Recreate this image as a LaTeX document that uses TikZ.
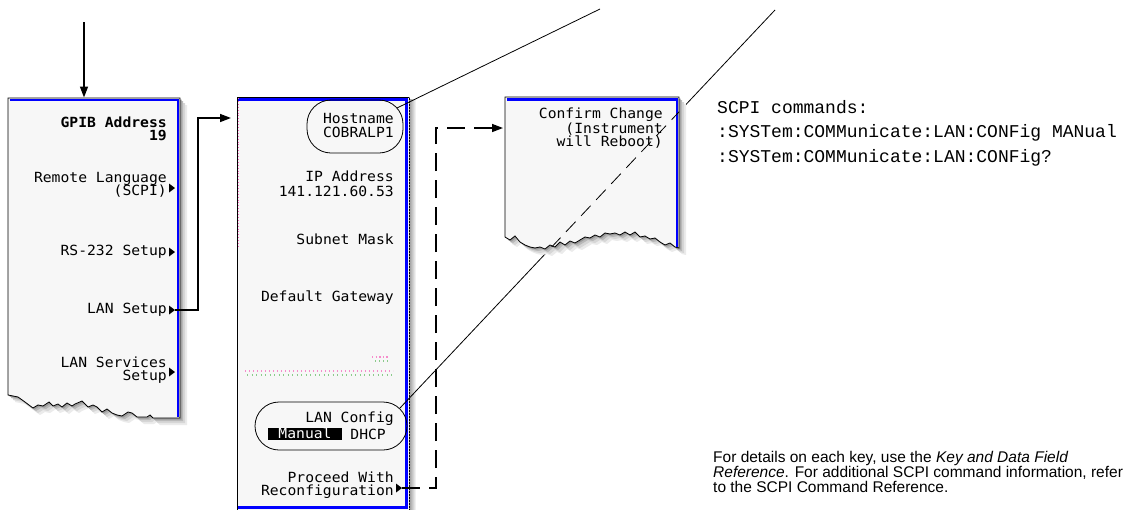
\documentclass[tikz,border=0pt]{standalone}
\usepackage{fontspec}
\setmainfont{Liberation Sans}
\newfontfamily\panelfont[FakeStretch=1.05]{DejaVu Sans Mono}
\newfontfamily\cmdfont{Liberation Mono}
\newcommand\tightlines{\lineskiplimit=-20pt\relax}
\usetikzlibrary{arrows.meta,calc}

\tikzset{
  sk/.style={anchor=east, align=right, inner sep=0pt, font=\panelfont\fontsize{14}{13}\selectfont\tightlines},
  skwide/.style={sk, font=\panelfont\fontsize{14}{14}\selectfont\tightlines},
  pnl/.style={fill=black!3, draw=black, line width=0.8pt},
  pnlblue/.style={draw=blue, line width=2.4pt},
  ring/.style={draw=black, line width=0.8pt, rounded corners=24pt},
  arr/.style={-{Triangle[length=11pt,width=8pt]}, line width=1.5pt},
  dasharr/.style={arr, dash pattern=on 18pt off 9pt},
  ptr/.style={line width=0.8pt},
  leftpaper/.pic={\path[pic actions] (8,98) -- (180,98) -- (180,418) -- (153,418) -- (150,415) -- (147,417)
    -- (137,417) -- (132,413) -- (128,412) -- (122,416) -- (117,415) -- (112,413) -- (107,409) -- (102,412)
    -- (97,407) -- (93,405) -- (88,407) -- (82,401) -- (75,404) -- (72,406) -- (67,403) -- (62,407)
    -- (58,404) -- (53,406) -- (49,402) -- (43,406) -- (38,405) -- (33,408) -- (25,402) -- (18,397)
    -- (13,396) -- (8,395) -- cycle;},
  rightpaper/.pic={\path[pic actions] (505,97) -- (679,97) -- (679,248) -- (675,247) -- (670,243)
    -- (665,245) -- (660,242) -- (655,238) -- (650,239) -- (645,236) -- (640,237) -- (635,232) -- (630,235)
    -- (625,232) -- (620,235) -- (615,233) -- (610,234) -- (605,233) -- (600,237) -- (595,235) -- (590,238)
    -- (585,237) -- (580,240) -- (575,243) -- (570,241) -- (565,245) -- (560,242) -- (555,247) -- (550,245)
    -- (545,249) -- (540,247) -- (535,248) -- (530,247) -- (525,245) -- (520,242) -- (515,236) -- (510,240)
    -- (505,237) -- cycle;}
}

\begin{document}
\begin{tikzpicture}[x=1pt, y=-1pt]
\useasboundingbox (0,0) rectangle (1130,509);

% left menu
\foreach \s/\c in {7/black!8, 5/black!16, 3/black!28, 1.5/black!40}
  \pic[fill=\c] at (\s,\s) {leftpaper};
\pic[pnl] {leftpaper};
\draw[pnlblue] (9.5,100) -- (178,100) -- (178,417);
\node[sk, font=\panelfont\bfseries\fontsize{14}{13}\selectfont] (gpib) at (167,129) {GPIB Address\\19};
\node[sk] (remlang) at (167,185) {Remote Language\\(SCPI)};
\node[sk] (rs232) at (167,252) {RS-232 Setup};
\node[sk] (lanset) at (167,310) {LAN Setup};
\node[sk] (lanserv) at (167,370) {LAN Services\\Setup};
\coordinate (remtip) at (175,188);
\coordinate (rstip) at (175,252);
\coordinate (lantip) at (175,310);
\coordinate (servtip) at (175,372);

% middle menu
\shade[left color=black!40, right color=white] (409,99) rectangle (416,509);
\filldraw[pnl] (237,97) rectangle (409,510);
\draw[black!45, dotted, line width=1pt] (409.5,97) -- (409.5,509);
\draw[pnlblue] (238,99.5) -- (406.5,99.5) -- (406.5,507.5) -- (238,507.5);
\draw[magenta!60, dotted, line width=0.9pt] (238.5,98) -- (238.5,248);
\node[ring, minimum width=96pt, minimum height=53pt] (hostring) at (355,126.5) {};
\node[skwide] (host) at (394,125) {Hostname\\COBRALP1};
\node[sk, font=\panelfont\fontsize{14}{15}\selectfont] (ipaddr) at (394,184) {IP Address\\141.121.60.53};
\node[sk] (subnet) at (394,239) {Subnet Mask};
\node[sk] (gateway) at (394,298) {Default Gateway};
% faded field
\draw[magenta!45, line width=1.4pt, dash pattern=on 1.4pt off 2.6pt] (245,371) -- (393,371);
\draw[green!55!black!45, line width=1.4pt, dash pattern=on 1.4pt off 3.1pt] (247,375) -- (393,375);
\draw[magenta!45, line width=1.4pt, dash pattern=on 1.4pt off 2.2pt] (372,357) -- (388,357);
\draw[green!55!black!45, line width=1.4pt, dash pattern=on 1.4pt off 2.6pt] (375,361) -- (390,361);
\node[ring, minimum width=152pt, minimum height=48pt] (cfgring) at (331,426) {};
\node[sk] (lancfg) at (394,419) {LAN Config};
\node[fill=black, text=white, minimum width=74pt, minimum height=12pt, inner sep=0pt,
  font=\panelfont\fontsize{14}{13}\selectfont] (manual) at (305,433.5) {Manual};
\node[sk] (dhcp) at (386,434) {DHCP};
\node[sk] (proceed) at (394,485) {Proceed With\\Reconfiguration};
\coordinate (proctip) at (402,488);

\foreach \c in {remtip,rstip,lantip,servtip,proctip}
  \fill (\c) -- ++(-6,-4.5) -- ++(0,9) -- cycle;

% pointers
\coordinate (hostptr) at (397,108);
\coordinate (cfgptr) at (400,408);
\coordinate (ptrA) at (600,9);
\coordinate (ptrB) at (775,10);
\draw[ptr] (hostptr) -- (ptrA);
\draw[ptr] (cfgptr) -- (ptrB);

% confirm menu
\foreach \s/\c in {7/black!8, 5/black!16, 3/black!28, 1.5/black!40}
  \pic[fill=\c] at (\s,\s) {rightpaper};
\pic[pnl] {rightpaper};
\draw[pnlblue] (506.5,99.5) -- (677,99.5) -- (677,247);
\node[sk, font=\panelfont\fontsize{14}{13}\selectfont] (confirm) at (663,128) {Confirm Change\\(Instrument\\will Reboot)};
\begin{scope}
  \clip (505,97) rectangle (679,246);
  \draw[ptr, dash pattern=on 14pt off 8pt] (cfgptr) -- (ptrB);
\end{scope}

% connectors
\coordinate (gpibin) at (84,22);
\coordinate (lefttop) at (84,97.5);
\coordinate (midin) at (231,118);
\coordinate (confin) at (503,128);
\draw[arr] (gpibin) -- (lefttop);
\draw[arr] (lantip) -- ++(23,0) |- (midin);
\draw[dasharr] (proctip) -- ++(34,0) |- (confin);

% notes
\node[anchor=west, align=left, inner sep=0pt, font=\cmdfont\fontsize{18}{24.5}\selectfont] (scpi) at (717,133)
  {SCPI commands:\\:SYSTem:COMMunicate:LAN:CONFig MANual\\:SYSTem:COMMunicate:LAN:CONFig?};
\node[anchor=west, align=left, inner sep=0pt, font=\fontsize{15.5}{14.6}\selectfont] (note) at (713,472)
  {For details on each key, use the \textit{Key and Data Field}\\\textit{Reference}. For additional SCPI command information, refer\\to the SCPI Command Reference.};
\end{tikzpicture}
\end{document}
